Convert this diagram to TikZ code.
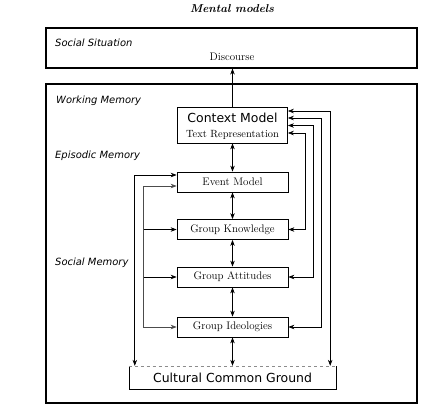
\documentclass[tikz,border=0pt]{standalone}
\usepackage{fontspec}
\newfontfamily\lab{DejaVu Sans}
\usetikzlibrary{arrows.meta,calc}
\begin{document}
\begin{tikzpicture}[x=1bp,y=-1bp,
  bigbox/.style={draw, line width=1.1pt, inner sep=0pt},
  sbox/.style={draw, line width=0.75pt, minimum width=111bp, minimum height=20bp, inner sep=0pt, font=\fontsize{11}{12}\selectfont},
  lbl/.style={anchor=west, inner sep=0pt, font=\lab\itshape\fontsize{10}{11}\selectfont},
  serif/.style={inner sep=0pt, font=\fontsize{11}{12}\selectfont},
  arr/.style={line width=0.65pt, -{Stealth[length=6bp,width=4.5bp]}},
  dbl/.style={line width=0.65pt, {Stealth[length=6bp,width=4.5bp]}-{Stealth[length=6bp,width=4.5bp]}},
]
\useasboundingbox (0,0) rectangle (433,407);

\node[font=\bfseries\itshape\fontsize{11.5}{13}\selectfont, inner sep=0pt] (title) at (232,9) {Mental models};

% Social situation
\node[bigbox, minimum width=371bp, minimum height=40bp] (ss) at (231.5,48) {};
\node[lbl] (sslbl) at (55,43) {Social Situation};
\node[serif] (disc) at (232,57) {Discourse};

% Memory
\node[bigbox, minimum width=371bp, minimum height=319bp] (mem) at (231.5,243.5) {};
\node[lbl] (wm) at (56,101) {Working Memory};
\node[lbl] (epm) at (55,156) {Episodic Memory};
\node[lbl] (som) at (55,263) {Social Memory};

% Context model
\node[draw, line width=0.75pt, minimum width=110bp, minimum height=36bp, inner sep=0pt] (cm) at (232.5,125) {};
\node[inner sep=0pt, font=\lab\fontsize{12.5}{13}\selectfont] (cmt) at (232.5,117.5) {Context Model};
\node[serif, font=\fontsize{10.5}{12}\selectfont] (trt) at (232.5,134.5) {Text Representation};

% Boxes
\node[sbox] (em) at (232.5,182) {Event Model};
\node[sbox] (gk) at (232.5,229.5) {Group Knowledge};
\node[sbox] (ga) at (232.5,277) {Group Attitudes};
\node[sbox] (gi) at (232.5,327) {Group Ideologies};

% Cultural common ground
\node[minimum width=207bp, minimum height=23bp, inner sep=0pt, font=\lab\fontsize{12.5}{14}\selectfont] (ccg) at (232.5,377.5) {Cultural Common Ground};
\draw[line width=0.6pt] (ccg.north west) -- (ccg.south west) -- (ccg.south east) -- (ccg.north east);
\draw[line width=0.5pt, black!45, dashed] (ccg.north west) -- (ccg.north east);

% Vertical connectors
\draw[arr] (cm.north) -- (cm.north |- ss.south);
\draw[dbl] (cm) -- (em);
\draw[dbl] (em) -- (gk);
\draw[dbl] (gk) -- (ga);
\draw[dbl] (ga) -- (gi);
\draw[dbl] (gi) -- (ccg);

% Left connectors
\draw[dbl] (em.west |- 0,175) -| ($(ccg.north west)+(6,0)$);
\draw[dbl, black!70] (em.west |- 0,186) -- ++(-33,0) |- (gi.west);
\draw[arr] ([xshift=-33bp]gk.west) -- (gk.west);
\draw[arr] ([xshift=-33bp]ga.west) -- (ga.west);

% Right connectors
\draw[dbl] (cm.east |- 0,133) -- ++(17,0) |- (gk.east);
\draw[dbl] (cm.east |- 0,125.5) -- ++(25.5,0) |- (ga.east);
\draw[dbl] (cm.east |- 0,118) -- ++(33.5,0) |- (gi.east);
\draw[dbl] (cm.east |- 0,111) -| ($(ccg.north east)+(-6,0)$);
\end{tikzpicture}
\end{document}
